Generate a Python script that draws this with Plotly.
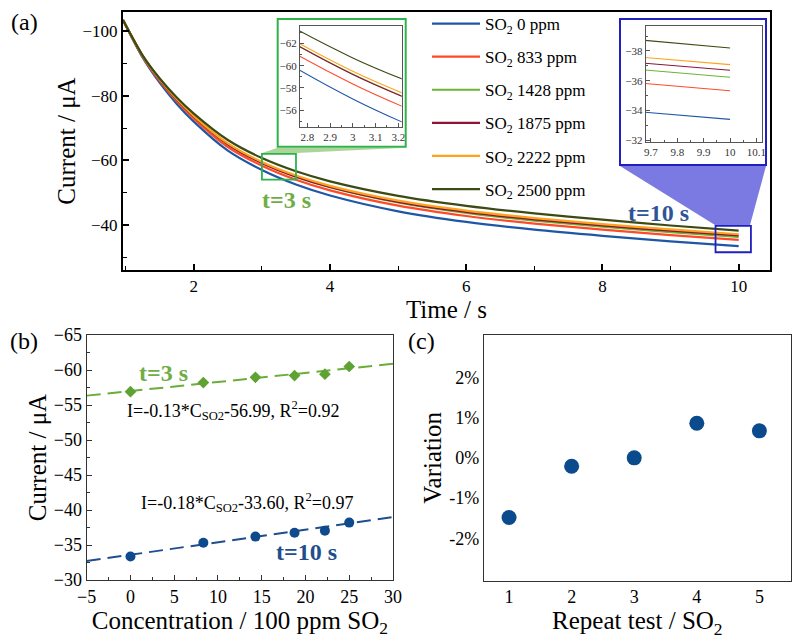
import plotly.graph_objects as go

# ---------------- data ----------------
# (a) chronoamperometry curves
t = [0.96, 1.25, 1.5, 1.75, 2.0, 2.5, 3.0, 3.5, 4.0, 5.0, 6.0, 7.0, 8.0, 9.0, 10.0]
i_0 = [-103.5, -91.8, -84.0, -77.5, -72.0, -63.0, -57.0, -52.5, -49.1, -44.2, -40.9, -38.5, -36.6, -34.9, -33.4]
i_833 = [-103.5, -92.1, -84.6, -78.3, -72.95, -64.15, -58.35, -54.0, -50.7, -45.95, -42.75, -40.4, -38.52, -36.83, -35.33]
i_1428 = [-103.5, -92.3, -85.0, -78.8, -73.6, -65.0, -59.25, -54.95, -51.7, -46.95, -43.7, -41.33, -39.44, -37.74, -36.23]
i_1875 = [-103.5, -92.3, -85.0, -78.8, -73.6, -65.0, -59.2, -54.95, -51.75, -47.1, -44.0, -41.7, -39.85, -38.18, -36.7]
i_2222 = [-103.5, -92.4, -85.1, -79.0, -73.8, -65.25, -59.5, -55.3, -52.1, -47.5, -44.4, -42.1, -40.25, -38.57, -37.08]
i_2500 = [-103.5, -92.5, -85.4, -79.5, -74.5, -66.3, -60.7, -56.6, -53.5, -49.0, -45.9, -43.55, -41.6, -39.8, -38.2]
series_names = ["SO<sub>2</sub> 0 ppm", "SO<sub>2</sub> 833 ppm", "SO<sub>2</sub> 1428 ppm",
                "SO<sub>2</sub> 1875 ppm", "SO<sub>2</sub> 2222 ppm", "SO<sub>2</sub> 2500 ppm"]
series_vals = [i_0, i_833, i_1428, i_1875, i_2222, i_2500]
series_colors = ["#1f57a6", "#ff4a2a", "#6bb435", "#8b1538", "#ffa31f", "#3c4a14"]

# (b) calibration
conc = [0, 8.33, 14.28, 18.75, 22.22, 25.0]
cur_3s = [-56.9, -58.2, -58.95, -59.2, -59.4, -60.5]
cur_10s = [-33.35, -35.33, -36.2, -36.76, -37.05, -38.2]
fit_slope = [-0.13, -0.18]
fit_intercept = [-56.99, -33.60]
fit_x = [-5, 30]

# (c) repeatability
repeat = [1, 2, 3, 4, 5]
variation = [-1.48, -0.21, 0.0, 0.86, 0.67]

# ---------------- helpers ----------------
W, H = 800, 641
def px(x):
    return x / W
def py(y):
    return 1 - y / H

FONT = "Liberation Serif"

fig = go.Figure()

# (a) main curves and insets
for nm, vals, col in zip(series_names, series_vals, series_colors):
    fig.add_trace(go.Scatter(x=t, y=vals, mode="lines", name=nm, legendgroup=nm,
                             line=dict(color=col, width=2.2, shape="spline", smoothing=0.8),
                             xaxis="x", yaxis="y"))
    fig.add_trace(go.Scatter(x=t, y=vals, mode="lines", showlegend=False, legendgroup=nm,
                             line=dict(color=col, width=1.1, shape="spline", smoothing=0.8),
                             xaxis="x2", yaxis="y2", hoverinfo="skip"))
    fig.add_trace(go.Scatter(x=t, y=vals, mode="lines", showlegend=False, legendgroup=nm,
                             line=dict(color=col, width=1.1, shape="spline", smoothing=0.8),
                             xaxis="x3", yaxis="y3", hoverinfo="skip"))

# (b)
fit_colors = ["#6aad3a", "#1f4e8c"]
for k in range(2):
    fig.add_trace(go.Scatter(x=fit_x, y=[fit_slope[k] * xx + fit_intercept[k] for xx in fit_x],
                             mode="lines", showlegend=False,
                             line=dict(color=fit_colors[k], width=2, dash="14px,7px"),
                             xaxis="x4", yaxis="y4"))
fig.add_trace(go.Scatter(x=conc, y=cur_3s, mode="markers", showlegend=False,
                         marker=dict(symbol="diamond", size=9, color="#5ea232"),
                         xaxis="x4", yaxis="y4"))
fig.add_trace(go.Scatter(x=conc, y=cur_10s, mode="markers", showlegend=False,
                         marker=dict(symbol="circle", size=10, color="#0f4a8c"),
                         xaxis="x4", yaxis="y4"))

# (c)
fig.add_trace(go.Scatter(x=repeat, y=variation, mode="markers", showlegend=False,
                         marker=dict(symbol="circle", size=15, color="#0b4a8c"),
                         xaxis="x5", yaxis="y5"))

tickfont_a = dict(family=FONT, size=17, color="black")
titlefont = dict(family=FONT, size=25, color="black")

inset_common = dict(showline=True, linecolor="#555", linewidth=1, mirror=True,
                    ticks="inside", ticklen=4, tickcolor="#555", tickwidth=1,
                    tickfont=dict(family=FONT, size=11, color="#333"),
                    showgrid=False, zeroline=False, automargin=False)

fig.update_layout(
    width=W, height=H,
    margin=dict(l=0, r=0, t=0, b=0),
    paper_bgcolor="white", plot_bgcolor="rgba(0,0,0,0)",
    font=dict(family=FONT, color="black"),
    xaxis=dict(domain=[px(123), px(770)], range=[0.96, 10.46], automargin=False,
               anchor="y", showline=True, linecolor="black", linewidth=2, mirror=True,
               ticks="inside", ticklen=6, tickwidth=1.5, tickcolor="black",
               tickvals=[2, 4, 6, 8, 10], tickfont=tickfont_a,
               minor=dict(ticks="inside", dtick=1, tick0=0, ticklen=4, tickcolor="black", tickwidth=1.3),
               showgrid=False, zeroline=False,
               title=dict(text="Time / s", font=titlefont, standoff=0)),
    yaxis=dict(domain=[py(270), py(12)], range=[-26, -106], automargin=False,
               anchor="x", showline=True, linecolor="black", linewidth=2, mirror=True,
               ticks="inside", ticklen=6, tickwidth=1.5, tickcolor="black",
               tickvals=[-100, -80, -60, -40], tickfont=tickfont_a,
               minor=dict(ticks="inside", dtick=10, tick0=0, ticklen=4, tickcolor="black", tickwidth=1.3),
               showgrid=False, zeroline=False,
               title=dict(text="Current / μA", font=titlefont, standoff=0)),
    xaxis2=dict(domain=[px(300), px(401.7)], range=[2.768, 3.215], anchor="y2",
                tickvals=[2.8, 2.9, 3.0, 3.1, 3.2],
                minor=dict(ticks="inside", dtick=0.05, tick0=0, ticklen=2, tickcolor="#555"),
                **inset_common),
    yaxis2=dict(domain=[py(126.7), py(25.7)], range=[-54.5, -63.6], anchor="x2",
                tickvals=[-62, -60, -58, -56],
                minor=dict(ticks="inside", dtick=1, tick0=0, ticklen=2, tickcolor="#555"),
                **inset_common),
    xaxis3=dict(domain=[px(645.7), px(761.7)], range=[9.68, 10.12], anchor="y3",
                tickvals=[9.7, 9.8, 9.9, 10, 10.1],
                minor=dict(ticks="inside", dtick=0.05, tick0=0, ticklen=2, tickcolor="#555"),
                **inset_common),
    yaxis3=dict(domain=[py(141.7), py(26)], range=[-31.9, -39.68], anchor="x3",
                tickvals=[-38, -36, -34, -32],
                minor=dict(ticks="inside", dtick=1, tick0=0, ticklen=2, tickcolor="#555"),
                **inset_common),
    xaxis4=dict(domain=[px(86.7), px(393)], range=[-5, 30], anchor="y4", automargin=False,
                showline=True, linecolor="#333", linewidth=1.3, mirror=True,
                ticks="inside", ticklen=5, tickcolor="#333", dtick=5, tick0=0,
                tickfont=dict(family=FONT, size=18, color="black"),
                minor=dict(ticks="inside", dtick=2.5, tick0=0, ticklen=3, tickcolor="#333"),
                showgrid=False, zeroline=False,
                title=dict(text="Concentration / 100 ppm SO<sub>2</sub>", font=titlefont, standoff=0)),
    yaxis4=dict(domain=[py(580), py(335)], range=[-30, -65], anchor="x4", automargin=False,
                showline=True, linecolor="#333", linewidth=1.3, mirror=True,
                ticks="inside", ticklen=5, tickcolor="#333", dtick=5, tick0=0,
                tickfont=dict(family=FONT, size=18, color="black"),
                minor=dict(ticks="inside", dtick=2.5, tick0=0, ticklen=3, tickcolor="#333"),
                showgrid=False, zeroline=False,
                title=dict(text="Current / μA", font=titlefont, standoff=0)),
    xaxis5=dict(domain=[px(484), px(790.7)], range=[0.6, 5.5], anchor="y5", automargin=False,
                showline=True, linecolor="#333", linewidth=1.3, mirror=True,
                ticks="", tickvals=repeat,
                tickfont=dict(family=FONT, size=18, color="black"),
                showgrid=False, zeroline=False,
                title=dict(text="Repeat test / SO<sub>2</sub>", font=titlefont, standoff=0)),
    yaxis5=dict(domain=[py(580.7), py(335)], range=[-3.05, 3.05], anchor="x5", automargin=False,
                showline=True, linecolor="#333", linewidth=1.3, mirror=True,
                ticks="", tickvals=[-2, -1, 0, 1, 2],
                ticktext=["-2%", "-1%", "0%", "1%", "2%"],
                tickfont=dict(family=FONT, size=18, color="black"),
                showgrid=False, zeroline=False,
                title=dict(text="Variation", font=titlefont, standoff=0)),
    legend=dict(x=px(427), y=py(6), xanchor="left", yanchor="top",
                font=dict(family=FONT, size=17, color="black"),
                bgcolor="rgba(0,0,0,0)", tracegroupgap=8, itemwidth=48),
)

GREEN = "#2db34a"
BLUE = "#2020c0"
shapes = [
    # inset frames
    dict(type="rect", xref="paper", yref="paper", x0=px(277.7), x1=px(405.7), y0=py(146.7), y1=py(19),
         line=dict(color=GREEN, width=2), layer="above"),
    dict(type="rect", xref="paper", yref="paper", x0=px(620), x1=px(766), y0=py(165), y1=py(19),
         line=dict(color=BLUE, width=2), layer="above"),
    # zoom regions in data coords
    dict(type="rect", xref="x", yref="y", x0=3.0, x1=3.5, y0=-62, y1=-54,
         line=dict(color=GREEN, width=1.8), layer="above"),
    dict(type="rect", xref="x", yref="y", x0=9.66, x1=10.18, y0=-39.7, y1=-31.5,
         line=dict(color=BLUE, width=1.8), layer="above"),
    # connectors
    dict(type="path", xref="paper", yref="paper",
         path=f"M{px(277.7)},{py(147.7)} L{px(405.7)},{py(147.7)} L{px(296.7)},{py(153)} L{px(262)},{py(153)} Z",
         fillcolor="rgba(120,185,85,0.6)", line=dict(width=0), layer="above"),
    dict(type="path", xref="paper", yref="paper",
         path=f"M{px(620)},{py(166)} L{px(766)},{py(166)} L{px(750)},{py(225)} L{px(715)},{py(225)} Z",
         fillcolor="#7a7ae2", line=dict(width=0), layer="above"),
]
fig.update_layout(shapes=shapes)

def ann(x, y, text, size, color="black", bold=False, xanchor="center"):
    if bold:
        text = f"<b>{text}</b>"
    return dict(x=px(x), y=py(y), xref="paper", yref="paper", text=text, showarrow=False,
                xanchor=xanchor, yanchor="middle",
                font=dict(family=FONT, size=size, color=color))

fig.update_layout(annotations=[
    ann(24, 22, "(a)", 24),
    ann(24, 341, "(b)", 24),
    ann(421, 341, "(c)", 24),
    ann(286, 200, "t=3 s", 24, "#70ad47", True),
    ann(658, 213, "t=10 s", 24, "#2f5597", True),
    ann(163, 373, "t=3 s", 24, "#70ad47", True),
    ann(306, 552, "t=10 s", 24, "#1f4e8c", True),
    ann(233, 410, "I=-0.13*C<sub>SO2</sub>-56.99, R<sup>2</sup>=0.92", 18),
    ann(247, 502, "I=-0.18*C<sub>SO2</sub>-33.60, R<sup>2</sup>=0.97", 18),
])

fig.write_html("out.html",
               config={"displayModeBar": False},
               post_script="document.body.style.margin='0px';document.body.style.overflow='hidden';")
